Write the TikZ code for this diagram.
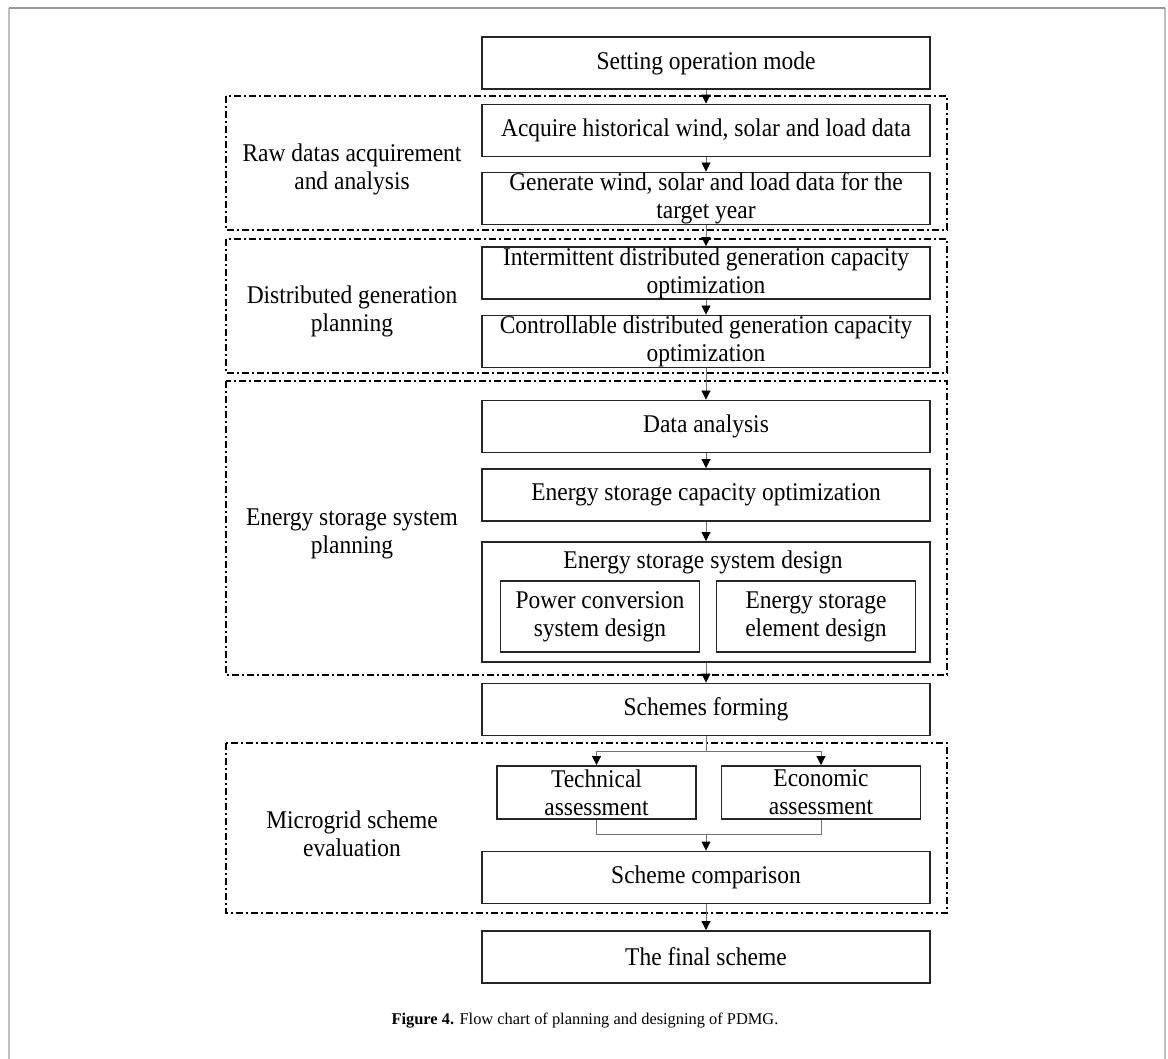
\documentclass[tikz,border=0pt]{standalone}
\usepackage{fontspec}
\setmainfont{Liberation Serif}[FakeStretch=0.92]
\newfontfamily\capfont{Liberation Serif}
\usetikzlibrary{arrows.meta}
\begin{document}
\begin{tikzpicture}[x=1pt,y=-1pt,
  every node/.style={font=\fontsize{25.5}{28}\selectfont},
  box/.style={draw=black!85, line width=1.9pt, minimum width=448pt, minimum height=52pt, inner sep=0pt, align=center},
  smallbox/.style={draw=black!85, line width=1.9pt, minimum width=199pt, minimum height=71pt, inner sep=0pt, align=center},
  evalbox/.style={draw=black!85, line width=1.9pt, minimum width=199pt, minimum height=53pt, inner sep=0pt, align=center},
  grp/.style={draw=black, line width=1.4pt, dash pattern=on 7pt off 3pt on 2pt off 3pt},
  lbl/.style={align=center, inner sep=0pt},
  conn/.style={draw=black!55, line width=0.9pt, -{Triangle[length=9pt,width=9pt,color=black]}},
  link/.style={draw=black!55, line width=0.9pt},
  frametop/.style={draw=black!40, line width=1.5pt},
  frameside/.style={draw=black!25, line width=2pt}
]
\useasboundingbox (0,0) rectangle (1168,1059);
% outer figure frame
\draw[frameside] (9,1059) -- (9,8);
\draw[frameside] (1165,1059) -- (1165,8);
\draw[frametop] (9,8) -- (1165,8);

% group frames
\draw[grp] (226,96) rectangle (947,230);
\draw[grp] (226,239) rectangle (947,373);
\draw[grp] (226,381) rectangle (947,675);
\draw[grp] (226,743) rectangle (947,913);

% group labels
\node[lbl] (l1) at (352,169) {Raw datas acquirement\\and analysis};
\node[lbl] (l2) at (352,311) {Distributed generation\\planning};
\node[lbl] (l3) at (352,534) {Energy storage system\\planning};
\node[lbl] (l4) at (352,834) {Microgrid scheme\\evaluation};

% main boxes
\node[box] (set) at (706,63) {Setting operation mode};
\node[box] (acq) at (706,130.5) {Acquire historical wind, solar and load data};
\node[box] (gen) at (706,198.5) {Generate wind, solar and load data for the\\target year};
\node[box] (inter) at (706,273) {Intermittent distributed generation capacity\\optimization};
\node[box] (ctrl) at (706,341.5) {Controllable distributed generation capacity\\optimization};
\node[box] (da) at (706,426.5) {Data analysis};
\node[box] (esco) at (706,495) {Energy storage capacity optimization};
\node[box, minimum height=120pt] (essd) at (706,602) {};
\node[lbl] (essdt) at (703,562) {Energy storage system design};
\node[smallbox] (pcs) at (600,616.5) {Power conversion\\system design};
\node[smallbox] (ese) at (816,616.5) {Energy storage\\element design};
\node[box] (sf) at (706,709.5) {Schemes forming};
\node[evalbox] (tech) at (596.5,792.5) {Technical\\assessment};
\node[evalbox] (econ) at (821,792.5) {Economic\\assessment};
\node[box] (sc) at (706,877.5) {Scheme comparison};
\node[box] (fin) at (706,957) {The final scheme};

% connectors
\draw[conn] (set.south) -- (acq.north);
\draw[conn] (acq.south) -- (gen.north);
\draw[conn] (gen.south) -- (inter.north);
\draw[conn] (inter.south) -- (ctrl.north);
\draw[conn] (ctrl.south) -- (da.north);
\draw[conn] (da.south) -- (esco.north);
\draw[conn] (esco.south) -- (essd.north);
\draw[conn] (essd.south) -- (sf.north);
\coordinate (brc) at (706,751);
\draw[link] (sf.south) -- (brc);
\draw[conn] (brc) -| (tech.north);
\draw[conn] (brc) -| (econ.north);
\coordinate (mc) at (706,834);
\draw[link] (tech.south) |- (mc);
\draw[link] (econ.south) |- (mc);
\draw[conn] (mc) -- (sc.north);
\draw[conn] (sc.south) -- (fin.north);

% caption
\node[font=\capfont\fontsize{16.4}{20}\selectfont, inner sep=0pt] (cap) at (585,1021) {\textbf{Figure 4.} Flow chart of planning and designing of PDMG.};
\end{tikzpicture}
\end{document}
